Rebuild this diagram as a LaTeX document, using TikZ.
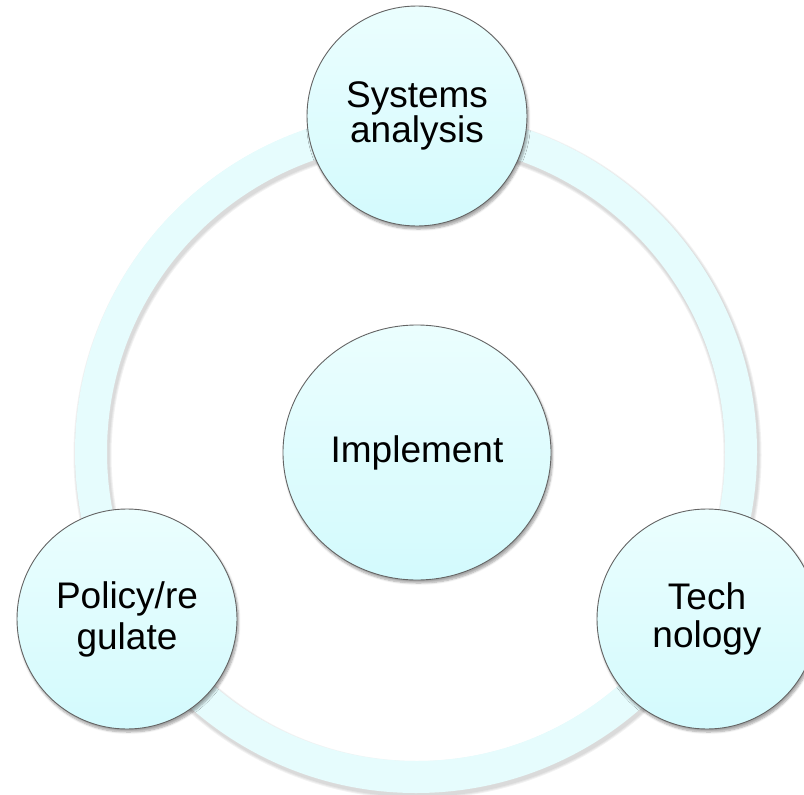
\documentclass[tikz,border=0pt]{standalone}
\usepackage{fontspec}
\setmainfont{Liberation Sans}
\usetikzlibrary{shapes.geometric,shadows.blur}

\definecolor{ringfill}{HTML}{E6FCFD}
\definecolor{bubbletop}{HTML}{EBFEFE}
\definecolor{bubblebot}{HTML}{D3FAFD}
\definecolor{bubbleline}{HTML}{646464}

\tikzset{
  bubble/.style={circle, minimum size=220pt, inner sep=0pt,
    top color=bubbletop, bottom color=bubblebot, draw=bubbleline, line width=0.9pt,
    align=center, text=black,
    blur shadow={shadow xshift=1.5pt, shadow yshift=-3pt, shadow blur steps=6, shadow opacity=35, shadow blur extra rounding=2pt}},
  hub/.style={bubble, ellipse, minimum width=268pt, minimum height=255pt},
  ringband/.style={draw=ringfill, line width=32pt},
  ringshade/.style={draw=black, line width=#1, opacity=0.05}
}

\begin{document}
\begin{tikzpicture}[x=1pt,y=-1pt]
  \useasboundingbox (0,0) rectangle (804,795);
  \coordinate (c) at (416,452);

  % soft shadow under the cycle band
  \foreach \w in {34,36,38}
    \draw[ringshade=\w pt] ([xshift=1.5pt,yshift=-3pt]c) circle (325);
  % cycle band
  \draw[ringband] (c) circle (325);

  % outer bubbles sitting on the band
  \node[bubble, font=\fontsize{37}{33}\selectfont] (sys) at (417,116)
    {Systems\\analysis};
  \node[bubble, font=\fontsize{37}{41}\selectfont] (pol) at (127,619)
    {Policy/re\\gulate};
  \node[bubble, font=\fontsize{37}{38}\selectfont] (tech) at (707,619)
    {Tech\\nology};

  % central bubble
  \node[hub, font=\fontsize{37}{40}\selectfont] (impl) at (417,452.5)
    {Implement};
\end{tikzpicture}
\end{document}
